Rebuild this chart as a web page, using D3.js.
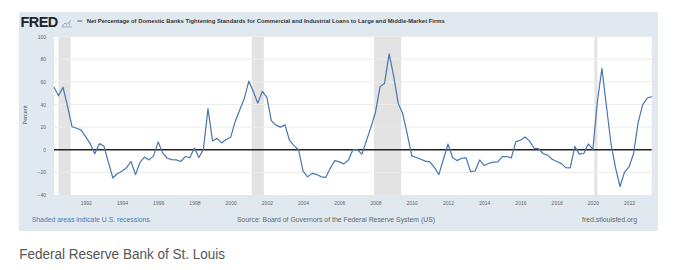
<!DOCTYPE html>
<html><head><meta charset="utf-8">
<script src="https://cdn.jsdelivr.net/npm/d3@7"></script>
<style>
html,body{margin:0;padding:0;background:#fff;}
svg{display:block;font-family:"Liberation Sans",Arial,sans-serif;}
</style></head>
<body>
<svg id="c" width="674" height="270"></svg>
<script>
// ---- data ----
const startDate = "1990-04-01"; // first quarterly observation (1990 Q2)
const values = [
  55.2, 47.8, 55.2,
  38, 20.3, 19, 17.3,
  11.3, 5.4, -3.6, 5.4,
  3.3, -11, -25, -21,
  -19, -16, -10.4, -22,
  -11, -6.6, -9, -5.4,
  6.9, -3, -7.5, -8.7,
  -9, -10.4, -6, -6.9,
  1.5, -6.9, 0.3, 36.4,
  7.8, 10.1, 6, 9,
  11, 24.8, 35.2, 45,
  60.6, 51.6, 41.2, 51.6,
  46.3, 25.7, 21.8, 20,
  22, 8.4, 3.6, 0,
  -18.8, -23.9, -20.9, -21.8,
  -23.9, -24.5, -16.4, -9.6,
  -10.7, -12.5, -9.3, 0,
  0, -3.9, 8, 20,
  33.4, 55.8, 58.8, 84.7,
  65, 41.2, 32, 14,
  -5.4, -6.9, -8.4, -10.1,
  -10.7, -15.5, -22, -8.4,
  5.1, -6.9, -9.6, -7.5,
  -7.2, -19.4, -18.8, -9,
  -14, -12, -11, -10.7,
  -6, -6, -7.2, 7.2,
  8.4, 11.3, 7.8, 1.5,
  0.9, -3.3, -4.8, -8.4,
  -10.4, -12, -15.8, -16,
  3, -3.9, -3.3, 5.1,
  0.3, 42.7, 71.9, 38.2,
  5.1, -15.8, -32.5, -19.7,
  -15, -3.3, 24, 39.7,
  45.7, 47
];
const recessions = [
  ["1990-07-01", "1991-03-01"],
  ["2001-03-01", "2001-11-01"],
  ["2007-12-01", "2009-06-01"],
  ["2020-02-01", "2020-04-01"]
];
const yTicks = [100, 80, 60, 40, 20, 0, -20, -40];
const xTickYears = [1992, 1994, 1996, 1998, 2000, 2002, 2004, 2006, 2008, 2010, 2012, 2014, 2016, 2018, 2020, 2022];
const titleText = "Net Percentage of Domestic Banks Tightening Standards for Commercial and Industrial Loans to Large and Middle-Market Firms";

// ---- build ----
const parse = d3.utcParse("%Y-%m-%d");
const d0 = parse(startDate);
const series = values.map((v, i) => ({date: d3.utcMonth.offset(d0, 3 * i), value: v}));

const svg = d3.select("#c");
const panel = {x: 19, y: 12, w: 639, h: 219};
const plot = {left: 54, right: 651.7, top: 36.6, bottom: 195};

svg.append("rect").attr("x", panel.x).attr("y", panel.y).attr("width", panel.w).attr("height", panel.h)
  .attr("fill", "#e1e9f0");

const x = d3.scaleUtc().domain([series[0].date, series[series.length - 1].date]).range([plot.left, plot.right]);
const y = d3.scaleLinear().domain([-40, 100]).range([plot.bottom, plot.top]);

svg.append("rect").attr("x", plot.left).attr("y", plot.top).attr("width", plot.right - plot.left)
  .attr("height", plot.bottom - plot.top).attr("fill", "#fff");

// recession shading
svg.append("g").selectAll("rect").data(recessions).join("rect")
  .attr("x", d => x(parse(d[0])))
  .attr("width", d => x(parse(d[1])) - x(parse(d[0])))
  .attr("y", plot.top).attr("height", plot.bottom - plot.top)
  .attr("fill", "#e3e3e3");

// gridlines
svg.append("g").selectAll("line").data(yTicks.filter(t => t !== 0 && t !== -40)).join("line")
  .attr("x1", plot.left).attr("x2", plot.right)
  .attr("y1", d => y(d)).attr("y2", d => y(d))
  .attr("stroke", "#ececec").attr("stroke-width", 1);

// y axis labels
const yAxis = d3.axisLeft(y).tickValues(yTicks).tickSize(0).tickPadding(0).tickFormat(d3.format("d"));
const gy = svg.append("g").attr("transform", `translate(${plot.left - 8},0)`).call(yAxis);
gy.select(".domain").remove();
gy.selectAll("text").attr("font-size", 5).attr("fill", "#666").attr("font-family", "Liberation Sans, Arial, sans-serif");

// x axis labels
const xAxis = d3.axisBottom(x).tickValues(xTickYears.map(yy => new Date(Date.UTC(yy, 0, 1))))
  .tickSize(0).tickPadding(0).tickFormat(d3.utcFormat("%Y"));
const gx = svg.append("g").attr("transform", `translate(0,${plot.bottom + 6})`).call(xAxis);
gx.select(".domain").remove();
gx.selectAll("text").attr("font-size", 5).attr("fill", "#666").attr("font-family", "Liberation Sans, Arial, sans-serif");

// zero line
svg.append("line").attr("x1", plot.left).attr("x2", plot.right)
  .attr("y1", y(0)).attr("y2", y(0)).attr("stroke", "#222").attr("stroke-width", 1.3);

// series line
svg.append("path").datum(series)
  .attr("d", d3.line().x(d => x(d.date)).y(d => y(d.value)))
  .attr("fill", "none").attr("stroke", "#4a76ad").attr("stroke-width", 1.2).attr("stroke-linejoin", "round");

// y label
svg.append("text").attr("transform", `translate(27,115) rotate(-90)`)
  .attr("text-anchor", "middle").attr("font-size", 5.5).attr("fill", "#555").text("Percent");

// header
svg.append("text").attr("x", 20.5).attr("y", 27.3).attr("font-size", 14.5).attr("font-weight", "bold")
  .attr("letter-spacing", -0.6).attr("fill", "#222").text("FRED");
// small icon
const ic = svg.append("g").attr("transform", "translate(61,18)");
ic.append("path").attr("d", "M0,9 L11,9").attr("stroke", "#9aa7b4").attr("stroke-width", 0.8);
ic.append("path").attr("d", "M1,8 L4,5 L6,6.5 L10,2").attr("stroke", "#8fa9c6").attr("stroke-width", 1).attr("fill", "none");
ic.append("rect").attr("x", 2).attr("y", 6).attr("width", 1.2).attr("height", 3).attr("fill", "#b9c3cd");
ic.append("rect").attr("x", 5).attr("y", 5).attr("width", 1.2).attr("height", 4).attr("fill", "#b9c3cd");
ic.append("rect").attr("x", 8).attr("y", 4).attr("width", 1.2).attr("height", 5).attr("fill", "#b9c3cd");
svg.append("line").attr("x1", 77.3).attr("x2", 82.3).attr("y1", 21).attr("y2", 21)
  .attr("stroke", "#4572a7").attr("stroke-width", 1.1);
svg.append("text").attr("x", 86.7).attr("y", 23).attr("font-size", 5.6).attr("font-weight", "bold")
  .attr("fill", "#333").attr("textLength", 358).attr("lengthAdjust", "spacingAndGlyphs").text(titleText);

// footer
svg.append("text").attr("x", 31.7).attr("y", 221.5).attr("font-size", 6.6).attr("fill", "#4a78b5")
  .attr("textLength", 120).attr("lengthAdjust", "spacingAndGlyphs")
  .text("Shaded areas indicate U.S. recessions.");
svg.append("text").attr("x", 237).attr("y", 221.5).attr("font-size", 6.4).attr("fill", "#666")
  .attr("textLength", 198).attr("lengthAdjust", "spacingAndGlyphs")
  .text("Source: Board of Governors of the Federal Reserve System (US)");
svg.append("text").attr("x", 582).attr("y", 221.5).attr("font-size", 6.4).attr("fill", "#666")
  .attr("textLength", 55).attr("lengthAdjust", "spacingAndGlyphs").text("fred.stlouisfed.org");

svg.append("text").attr("x", 19.3).attr("y", 258.5).attr("font-size", 14).attr("fill", "#555")
  .attr("textLength", 205.7).attr("lengthAdjust", "spacingAndGlyphs")
  .text("Federal Reserve Bank of St. Louis");
</script>
</body></html>
